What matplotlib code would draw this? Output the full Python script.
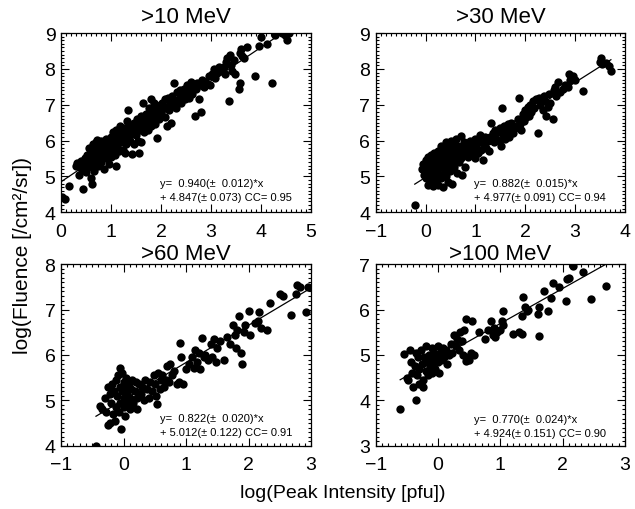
import matplotlib
matplotlib.use("Agg")
import matplotlib.pyplot as plt
from matplotlib.ticker import AutoMinorLocator, MultipleLocator
import numpy as np

plt.rcParams['font.family'] = ['Liberation Sans', 'DejaVu Sans']

# >10 MeV points (log peak intensity, log fluence)
x10 = [0.02, 0.08, 0.17, 0.30, 0.33, 0.36, 0.38, 0.40, 0.42, 0.45, 0.46, 0.48, 0.50, 0.50,
       0.52, 0.55, 0.56, 0.58, 0.60, 0.60, 0.62, 0.63, 0.64, 0.65, 0.66, 0.68, 0.70, 0.70, 0.72, 0.73,
       0.75, 0.75, 0.77, 0.78, 0.80, 0.80, 0.82, 0.84, 0.85, 0.86, 0.88, 0.90, 0.90, 0.92, 0.93, 0.95,
       0.96, 0.98, 1.00, 1.00,
       1.02, 1.04, 1.05, 1.07, 1.08, 1.10, 1.10, 1.12, 1.14, 1.15, 1.17, 1.18, 1.20, 1.22, 1.23, 1.25,
       1.26, 1.28, 1.30, 1.30, 1.32, 1.33, 1.35, 1.36, 1.38, 1.40, 1.42, 1.43, 1.45, 1.46, 1.48, 1.50,
       1.52, 1.54, 1.55, 1.56, 1.58, 1.60, 1.60, 1.62, 1.63, 1.65, 1.66, 1.68, 1.70, 1.71, 1.73, 1.75,
       1.76, 1.78, 1.80, 1.80, 1.82, 1.84, 1.85, 1.87, 1.88, 1.90, 1.91, 1.92, 1.95, 1.96, 1.98,
       2.00, 2.02, 2.05, 2.07, 2.08, 2.10, 2.12, 2.14, 2.15, 2.18, 2.20, 2.22, 2.24, 2.25, 2.27, 2.30,
       2.32, 2.35, 2.38, 2.40, 2.42, 2.45, 2.48, 2.50,
       2.52, 2.55, 2.58, 2.60, 2.62, 2.65, 2.68, 2.70, 2.72, 2.75, 2.78, 2.80, 2.82, 2.85, 2.88, 2.90,
       2.95, 2.98,
       3.02, 3.05, 3.08, 3.12, 3.15, 3.20, 3.25, 3.28, 3.30, 3.32, 3.35, 3.38, 3.40, 3.42, 3.45, 3.48,
       3.55, 3.57, 3.58, 3.60, 3.62, 3.65, 3.72, 3.88, 3.95, 4.00, 4.12, 4.22, 4.28, 4.42, 4.48, 4.52, 4.55]
y10 = [4.42, 4.38, 4.72, 5.30, 5.38, 5.05, 5.25, 5.42, 5.18, 4.65, 5.32, 5.50, 5.12, 5.40,
       5.60, 5.25, 5.80, 5.45, 4.95, 5.65, 5.35, 4.78, 5.90, 5.55, 5.15, 5.75, 5.95, 5.48, 5.62, 6.02,
       5.30, 5.85, 5.55, 5.70, 6.00, 5.40, 5.82, 5.60, 5.95, 5.20, 5.72, 6.05, 5.50, 5.85, 5.65, 5.95,
       5.35, 5.80, 6.10, 5.55,
       5.75, 6.25, 5.90, 5.60, 6.05, 5.30, 6.30, 5.85, 6.15, 5.70, 6.00, 6.40, 5.95, 6.20, 5.75, 6.35,
       6.05, 5.65, 6.25, 5.90, 6.55, 6.85, 6.10, 6.40, 6.00, 6.30, 5.62, 6.20, 6.50, 5.90, 6.35, 6.15,
       6.60, 6.00, 6.45, 5.64, 6.30, 6.70, 5.95, 6.50, 7.05, 6.25, 6.60, 6.40, 6.75, 6.55, 6.30, 6.90,
       6.50, 6.65, 7.15, 6.40, 6.80, 6.55, 7.05, 6.70, 6.45, 6.95, 6.06, 6.75, 6.60, 6.90, 7.00,
       6.80, 7.05, 6.90, 6.65, 7.15, 6.95, 6.40, 7.20, 6.85, 7.05, 6.50, 7.25, 7.00, 7.60, 7.10, 6.90,
       7.35, 7.15, 7.40, 7.05, 7.25, 7.45, 7.15, 7.35,
       7.55, 7.20, 7.45, 7.65, 7.30, 7.50, 6.68, 7.45, 7.60, 7.15, 7.55, 6.80, 7.70, 7.50, 7.65, 7.60,
       7.80, 7.55,
       7.85, 8.00, 7.75, 7.90, 8.05, 7.95, 8.05, 7.85, 8.20, 8.30, 7.10, 8.40, 8.10, 7.95, 8.25, 7.85,
       7.45, 7.60, 8.45, 8.55, 8.35, 8.30, 8.60, 7.80, 8.65, 8.88, 8.70, 7.60, 8.95, 9.00, 8.95, 8.80, 9.00]

# >30 MeV points
x30 = [-0.22, -0.08, -0.05, -0.03, 0.00, 0.00, 0.02, 0.03, 0.05, 0.05, 0.07, 0.08, 0.10, 0.10, 0.12,
       0.12, 0.14, 0.15, 0.15, 0.17, 0.18, 0.20, 0.20, 0.22, 0.23, 0.25, 0.25, 0.27, 0.28, 0.30, 0.30,
       0.32, 0.33, 0.35, 0.35, 0.37, 0.38, 0.40, 0.40, 0.42, 0.43, 0.45, 0.45, 0.47, 0.48, 0.50, 0.50,
       0.52, 0.53, 0.55, 0.55, 0.57, 0.58, 0.60, 0.60, 0.62, 0.63, 0.65, 0.67, 0.68, 0.70, 0.70, 0.72,
       0.73, 0.75, 0.77, 0.78, 0.80,
       0.82, 0.85, 0.88, 0.90, 0.92, 0.95, 0.97, 1.00, 1.00, 1.02, 1.05, 1.08, 1.10, 1.12, 1.15, 1.18,
       1.20, 1.22, 1.25, 1.28, 1.30, 1.32, 1.35, 1.38, 1.40, 1.42, 1.45, 1.48, 1.50,
       1.52, 1.54, 1.55, 1.58, 1.60, 1.62, 1.65, 1.68, 1.70, 1.72, 1.75, 1.78, 1.80, 1.85, 1.88, 1.90,
       1.92, 1.95, 1.98, 2.00, 2.02, 2.05, 2.08, 2.10, 2.12, 2.15, 2.18, 2.22, 2.25, 2.28, 2.30, 2.35,
       2.38, 2.40, 2.42, 2.45, 2.48, 2.50,
       2.55, 2.58, 2.60, 2.62, 2.65, 2.70, 2.75, 2.80, 2.85, 2.88, 2.90, 2.95, 3.00, 3.16, 3.50, 3.52,
       3.55, 3.62, 3.68, 3.72]
y30 = [4.20, 5.20, 5.35, 5.05, 5.45, 4.95, 5.30, 5.15, 5.55, 4.75, 5.25, 5.40, 5.00, 5.60, 4.85,
       5.30, 5.15, 5.45, 4.72, 5.65, 5.05, 5.35, 4.90, 5.50, 5.20, 4.75, 5.70, 5.05, 5.40, 5.85, 4.95,
       5.55, 5.25, 4.70, 5.75, 5.10, 5.45, 5.95, 5.00, 5.60, 5.30, 5.80, 4.85, 5.50, 5.15, 5.70, 6.00,
       5.35, 4.80, 5.60, 5.90, 5.25, 5.75, 5.45, 6.05, 5.55, 5.10, 5.85, 5.40, 5.65, 6.12, 5.50, 5.03,
       5.80, 5.60, 5.95, 5.25, 5.70,
       5.90, 5.55, 6.00, 5.75, 5.60, 5.90, 5.70, 6.05, 5.50, 5.85, 5.65, 5.95, 6.15, 5.75, 5.45, 5.90,
       6.10, 5.80, 6.00, 5.70, 6.10, 6.48, 6.20, 5.95, 6.30, 6.05, 6.25, 6.00, 6.35,
       5.85, 6.90, 6.15, 6.40, 6.05, 6.25, 6.45, 6.10, 6.30, 6.50, 6.20, 6.40, 6.35, 6.60, 7.18, 6.45,
       6.30, 6.75, 6.55, 6.85, 6.65, 6.95, 6.70, 7.00, 6.80, 7.10, 6.90, 7.15, 6.20, 7.20, 7.00, 6.85,
       7.25, 7.10, 6.70, 6.95, 7.30, 7.05,
       6.60, 7.40, 7.50, 7.25, 7.65, 7.35, 7.45, 7.55, 7.50, 7.86, 7.70, 7.80, 7.70, 7.38, 8.20, 8.32,
       8.15, 8.18, 8.08, 7.95]

# >60 MeV points
x60 = [-0.44, -0.38, -0.35, -0.30, -0.28, -0.25, -0.24, -0.22, -0.21, -0.20, -0.18, -0.17, -0.15,
       -0.14, -0.12, -0.12, -0.10, -0.09, -0.08, -0.06, -0.05, -0.05, -0.04, -0.03, -0.02, 0.00, 0.00,
       0.01, 0.02, 0.03, 0.04, 0.05, 0.06, 0.08, 0.10, 0.10, 0.12, 0.14, 0.15, 0.18, 0.20, 0.21, 0.22,
       0.25, 0.28, 0.30, 0.33, 0.35, 0.38, 0.40, 0.42, 0.45, 0.48, 0.50, 0.52, 0.53, 0.55, 0.58, 0.60,
       0.62, 0.65, 0.68, 0.70, 0.72, 0.75, 0.78, 0.80, 0.85, 0.88, 0.91, 0.92, 0.95, 1.00, 1.05, 1.10,
       1.12, 1.15, 1.18, 1.20, 1.22, 1.25, 1.28, 1.30, 1.35, 1.40, 1.42, 1.45, 1.48, 1.50, 1.55, 1.60,
       1.65, 1.70, 1.75, 1.78, 1.80, 1.82, 1.85, 1.88, 1.90, 1.92, 1.95, 2.00, 2.03, 2.10, 2.15, 2.17,
       2.20, 2.30, 2.35, 2.50, 2.55, 2.67, 2.75, 2.78, 2.82, 2.91, 2.95]
y60 = [4.00, 4.88, 4.80, 5.05, 4.75, 5.30, 4.45, 5.15, 4.50, 4.95, 5.35, 4.70, 5.20,
       4.55, 5.45, 4.85, 5.10, 5.55, 4.75, 5.30, 5.72, 4.95, 4.38, 5.20, 5.60, 4.85, 5.40,
       5.05, 4.65, 5.30, 5.50, 4.95, 5.15, 5.35, 4.80, 5.05, 5.25, 5.45, 4.95, 5.20, 5.40, 4.80, 5.05,
       5.35, 5.15, 5.30, 5.00, 5.45, 5.25, 5.05, 5.40, 5.20, 5.55, 5.35, 5.10, 4.91, 5.60, 5.25, 5.45,
       5.55, 5.30, 5.45, 5.75, 5.40, 5.80, 5.55, 5.65, 5.35, 5.40, 6.27, 5.95, 5.35, 5.70, 5.80, 5.95,
       5.72, 6.10, 5.85, 6.05, 5.70, 6.38, 5.95, 6.00, 5.90, 6.25, 5.95, 6.35, 5.85, 6.15, 6.30, 5.90,
       6.40, 6.25, 6.65, 6.45, 6.15, 6.55, 6.85, 6.05, 5.80, 6.50, 6.65, 6.97, 6.43, 6.70, 6.75, 6.95,
       6.60, 6.55, 7.15, 7.35, 7.30, 6.88, 7.35, 7.54, 7.50, 6.95, 7.50]

# >100 MeV points
x100 = [-0.61, -0.55, -0.50, -0.48, -0.45, -0.44, -0.42, -0.40, -0.38, -0.36, -0.35, -0.34, -0.32,
        -0.30, -0.30, -0.28, -0.26, -0.25, -0.24, -0.22, -0.20, -0.19, -0.18, -0.16, -0.15, -0.13,
        -0.12, -0.10, -0.10, -0.08, -0.06, -0.05, -0.03, 0.00, 0.00, 0.02, 0.03, 0.05, 0.08, 0.10,
        0.12, 0.15, 0.18, 0.20, 0.22, 0.25, 0.28, 0.30, 0.33, 0.35, 0.38, 0.40, 0.42, 0.44, 0.45,
        0.48, 0.50, 0.52, 0.55, 0.58, 0.65, 0.75, 0.80, 0.85, 0.88, 0.90, 0.92, 0.95, 1.00, 1.02,
        1.04, 1.05, 1.20, 1.30, 1.34, 1.35, 1.36, 1.40, 1.42, 1.45, 1.60, 1.62, 1.62, 1.70, 1.76,
        1.82, 1.85, 1.95, 2.05, 2.07, 2.10, 2.17, 2.32, 2.46, 2.70]
y100 = [3.82, 5.02, 4.50, 4.45, 5.10, 4.85, 4.60, 4.30, 4.75, 4.00, 5.05, 4.55, 4.95,
        4.70, 4.35, 5.10, 4.80, 4.45, 4.30, 4.95, 4.65, 5.20, 4.85, 4.55, 5.00, 4.75,
        4.90, 5.15, 4.60, 4.85, 5.05, 4.70, 4.95, 5.20, 4.85, 4.60, 5.05, 4.90, 5.15, 4.95,
        5.10, 4.80, 5.00, 5.25, 5.05, 5.45, 5.20, 5.35, 5.10, 5.50, 5.30, 5.00, 5.55, 5.79, 4.87,
        4.95, 4.90, 5.05, 5.74, 5.00, 5.50, 5.35, 5.55, 5.75, 5.45, 5.60, 5.40, 5.50, 5.55, 5.75,
        5.96, 5.65, 5.47, 5.50, 5.47, 5.85, 6.27, 6.05, 5.96, 6.00, 5.90, 6.05, 5.42, 6.40, 5.96,
        6.25, 6.58, 6.50, 6.20, 6.68, 6.70, 6.95, 6.83, 6.24, 6.52]

titles = ['>10 MeV', '>30 MeV', '>60 MeV', '>100 MeV']
slopes = [0.940, 0.882, 0.822, 0.770]
slope_err = [0.012, 0.015, 0.020, 0.024]
intercepts = [4.847, 4.977, 5.012, 4.924]
intercept_err = [0.073, 0.091, 0.122, 0.151]
ccs = [0.95, 0.94, 0.91, 0.90]

xs = [x10, x30, x60, x100]
ys = [y10, y30, y60, y100]
xlims = [(0, 5), (-1, 4), (-1, 3), (-1, 3)]
ylims = [(4, 9), (4, 9), (4, 8), (3, 7)]

# axes boxes in figure fractions (left, bottom, width, height)
boxes = [(0.096, 0.582, 0.394, 0.351),
         (0.592, 0.582, 0.392, 0.351),
         (0.096, 0.124, 0.394, 0.356),
         (0.592, 0.124, 0.392, 0.356)]
text_y = [(0.165, 0.083), (0.165, 0.083), (0.155, 0.075), (0.150, 0.070)]

fig = plt.figure(figsize=(6.35, 5.1), dpi=100)

for i in range(4):
    ax = fig.add_axes(boxes[i])
    x = np.array(xs[i])
    y = np.array(ys[i])
    ax.plot(x, y, 'o', color='black', ms=6, mec='none')

    # linear fit line over the data range
    xl = np.array([x.min(), x.max()])
    ax.plot(xl, slopes[i] * xl + intercepts[i], color='black', lw=0.9)

    ax.set_xlim(*xlims[i])
    ax.set_ylim(*ylims[i])
    ax.xaxis.set_major_locator(MultipleLocator(1))
    ax.yaxis.set_major_locator(MultipleLocator(1))
    ax.xaxis.set_minor_locator(AutoMinorLocator(10))
    ax.yaxis.set_minor_locator(AutoMinorLocator(10))
    ax.tick_params(which='both', direction='in', top=True, right=True, width=0.8)
    ax.tick_params(which='major', length=6, labelsize=14)
    ax.tick_params(axis='x', which='major', pad=7.5)
    ax.tick_params(axis='y', which='major', pad=4)
    ax.tick_params(which='minor', length=2.5)
    for s in ax.spines.values():
        s.set_linewidth(0.9)
    ax.set_title(titles[i], fontsize=16, pad=4 if i >= 2 else 8)

    t1 = 'y=  %.3f(±  %.3f)*x' % (slopes[i], slope_err[i])
    t2 = '+ %.3f(± %.3f) CC= %.2f' % (intercepts[i], intercept_err[i], ccs[i])
    ax.text(0.395, text_y[i][0], t1, transform=ax.transAxes, fontsize=8, va='center')
    ax.text(0.395, text_y[i][1], t2, transform=ax.transAxes, fontsize=8, va='center')

fig.text(0.035, 0.5, 'log(Fluence [/cm²/sr])', rotation=90, fontsize=15,
         ha='center', va='center')
fig.text(0.54, 0.032, 'log(Peak Intensity [pfu])', fontsize=14, ha='center', va='center')

fig.savefig('out.png', dpi=100)
